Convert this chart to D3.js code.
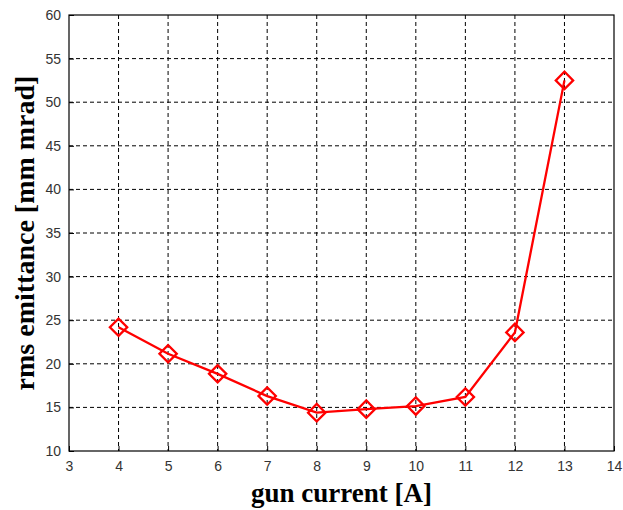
<!DOCTYPE html>
<html><head><meta charset="utf-8">
<script src="https://cdn.jsdelivr.net/npm/d3@7"></script>
<style>body{margin:0;background:#fff}</style>
</head><body>
<svg id="c" width="623" height="510"></svg>
<script>
const current = [4,5,6,7,8,9,10,11,12,13];
const emittance = [24.2,21.15,18.85,16.3,14.4,14.8,15.15,16.2,23.6,52.5];
const xTicks = [3,4,5,6,7,8,9,10,11,12,13,14];
const yTicks = [10,15,20,25,30,35,40,45,50,55,60];

const svg = d3.select("#c");
const L=69,R=614,T=15,B=451;
const x = d3.scaleLinear().domain([3,14]).range([L,R]);
const y = d3.scaleLinear().domain([10,60]).range([B,T]);

// grid
const g = svg.append("g");
g.selectAll("line.vx").data(xTicks.slice(1,-1)).enter().append("line")
 .attr("x1",d=>x(d)).attr("x2",d=>x(d)).attr("y1",T).attr("y2",B)
 .attr("stroke","#000").attr("stroke-width",1).attr("stroke-dasharray","4,3");
g.selectAll("line.hy").data(yTicks.slice(1,-1)).enter().append("line")
 .attr("y1",d=>y(d)).attr("y2",d=>y(d)).attr("x1",L).attr("x2",R)
 .attr("stroke","#000").attr("stroke-width",1).attr("stroke-dasharray","4,3");

// axes
const ax = svg.append("g").attr("transform",`translate(0,${B})`)
 .call(d3.axisBottom(x).tickValues(xTicks).tickSize(-5).tickPadding(10).tickFormat(d3.format("d")));
const ay = svg.append("g").attr("transform",`translate(${L},0)`)
 .call(d3.axisLeft(y).tickValues(yTicks).tickSize(-5).tickPadding(8).tickFormat(d3.format("d")));
[ax,ay].forEach(a=>{
  a.select(".domain").remove();
  a.selectAll("text").attr("font-family","Liberation Sans, Arial, sans-serif").attr("font-size",14).attr("fill","#333");
  a.selectAll(".tick line").attr("stroke","#000");
});
// box
svg.append("rect").attr("x",L).attr("y",T).attr("width",R-L).attr("height",B-T)
 .attr("fill","none").attr("stroke","#000").attr("stroke-width",1.2);

// line
const line = d3.line().x((d,i)=>x(current[i])).y(d=>y(d));
svg.append("path").datum(emittance).attr("d",line)
 .attr("fill","none").attr("stroke","#f00").attr("stroke-width",2.3);

// markers
const sym = d3.symbol().type(d3.symbolSquare).size(150);
svg.selectAll("path.m").data(emittance).enter().append("path")
 .attr("d",sym).attr("transform",(d,i)=>`translate(${x(current[i])},${y(d)}) rotate(45)`)
 .attr("fill","none").attr("stroke","#f00").attr("stroke-width",2.3);

// titles
svg.append("text").attr("x",(L+R)/2).attr("y",502).attr("text-anchor","middle")
 .attr("font-family","Liberation Serif, Times New Roman, serif").attr("font-weight","bold").attr("font-size",27)
 .text("gun current [A]");
svg.append("text").attr("transform",`translate(34,${(T+B)/2}) rotate(-90)`).attr("text-anchor","middle")
 .attr("font-family","Liberation Serif, Times New Roman, serif").attr("font-weight","bold").attr("font-size",28)
 .text("rms emittance [mm mrad]");
</script>
</body></html>
